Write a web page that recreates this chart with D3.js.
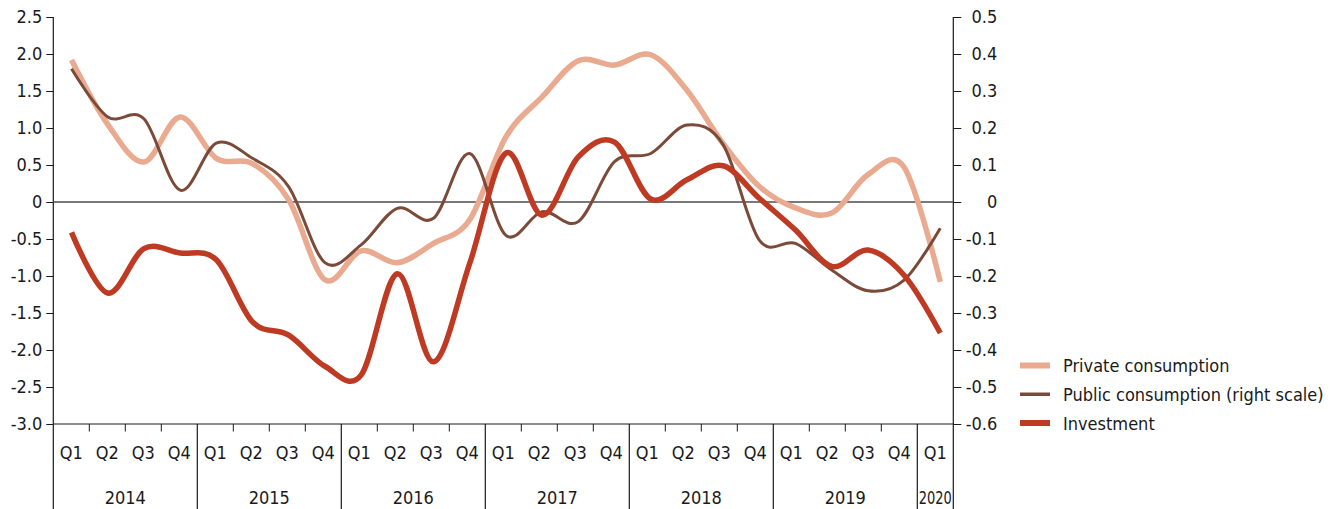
<!DOCTYPE html>
<html>
<head>
<meta charset="utf-8">
<script src="https://cdn.jsdelivr.net/npm/d3@7"></script>
<style>
  html, body { margin: 0; padding: 0; background: #fff; }
  svg text { font-family: "DejaVu Sans Condensed", "Liberation Sans", sans-serif; font-size: 18px; fill: #1a1a1a; }
</style>
</head>
<body>
<svg id="chart" width="1330" height="509"></svg>
<script>
// Quarterly periods, 2014 Q1 to 2020 Q1
const years = ["2014", "2015", "2016", "2017", "2018", "2019", "2020"];
const quarterNames = ["Q1", "Q2", "Q3", "Q4"];
const periods = [];
years.forEach(y => quarterNames.forEach(q => { if (y !== "2020" || q === "Q1") periods.push(y + " " + q); }));

// Contributions, percentage points
const privateConsumption = [1.92, 1.05, 0.54, 1.15, 0.59, 0.52, 0.03, -1.05, -0.66, -0.82, -0.56, -0.24,
  0.88, 1.42, 1.91, 1.85, 1.99, 1.51, 0.79, 0.21, -0.08, -0.15, 0.37, 0.47, -1.08];
const publicConsumption = [0.36, 0.23, 0.225, 0.032, 0.159, 0.118, 0.041, -0.164, -0.116, -0.017, -0.044, 0.131,
  -0.09, -0.026, -0.053, 0.109, 0.131, 0.208, 0.155, -0.103, -0.112, -0.184, -0.24, -0.211, -0.071];
const investment = [-0.41, -1.23, -0.63, -0.69, -0.78, -1.62, -1.80, -2.22, -2.34, -0.97, -2.16, -0.83,
  0.66, -0.18, 0.61, 0.81, 0.04, 0.30, 0.49, 0.05, -0.38, -0.87, -0.65, -0.99, -1.77];

const leftTicks = [2.5, 2.0, 1.5, 1.0, 0.5, 0, -0.5, -1.0, -1.5, -2.0, -2.5, -3.0];
const rightTicks = [0.5, 0.4, 0.3, 0.2, 0.1, 0, -0.1, -0.2, -0.3, -0.4, -0.5, -0.6];

const series = [
  { name: "Private consumption", values: privateConsumption, axis: "left", color: "#e9aa8f", width: 5.5 },
  { name: "Public consumption (right scale)", values: publicConsumption, axis: "right", color: "#7b4b3a", width: 3 },
  { name: "Investment", values: investment, axis: "left", color: "#bf3a22", width: 5.5 }
];

const svg = d3.select("#chart");
const plot = { left: 53.3, right: 953.3, top: 17, bottom: 424 };

const xBand = d3.scaleBand().domain(periods).range([plot.left, plot.right]);
const xLine = d3.scalePoint().domain(periods).range([71.5, 940.3]);
const yLeft = d3.scaleLinear().domain([-3.0, 2.5]).range([plot.bottom, plot.top]);
const yRight = d3.scaleLinear().domain([-0.6, 0.5]).range([plot.bottom, plot.top]);

const fmt = d => d === 0 ? "0" : d.toFixed(1);

// Left axis
const gL = svg.append("g").attr("transform", `translate(${plot.left},0)`)
  .call(d3.axisLeft(yLeft).tickValues(leftTicks).tickFormat(fmt).tickSize(7).tickSizeOuter(0).tickPadding(4));
gL.select(".domain").remove();
gL.selectAll("line").attr("stroke", "#1a1a1a");
gL.selectAll("text").attr("font-size", null).attr("font-family", null);

// Right axis: ticks outward, labels right-aligned
const gR = svg.append("g").attr("transform", `translate(${plot.right},0)`)
  .call(d3.axisRight(yRight).tickValues(rightTicks).tickFormat(fmt).tickSize(8).tickSizeOuter(0).tickPadding(4));
gR.select(".domain").remove();
gR.selectAll("line").attr("stroke", "#1a1a1a");
gR.selectAll("text").attr("font-size", null).attr("font-family", null)
  .attr("text-anchor", "end").attr("x", 44);

// Vertical axis lines reaching down through the category labels
svg.append("line").attr("x1", plot.left).attr("x2", plot.left).attr("y1", plot.top).attr("y2", 509)
  .attr("stroke", "#1a1a1a").attr("stroke-width", 1.2);
svg.append("line").attr("x1", plot.right).attr("x2", plot.right).attr("y1", plot.top).attr("y2", 509)
  .attr("stroke", "#1a1a1a").attr("stroke-width", 1.2);

// Category axis
svg.append("line").attr("x1", plot.left).attr("x2", plot.right).attr("y1", plot.bottom).attr("y2", plot.bottom)
  .attr("stroke", "#1a1a1a").attr("stroke-width", 1.2);

const gX = svg.append("g");
periods.forEach((p, i) => {
  const x0 = xBand(p);
  const q = p.split(" ")[1];
  if (i > 0) {
    const yearStart = q === "Q1";
    gX.append("line").attr("x1", x0).attr("x2", x0).attr("y1", plot.bottom)
      .attr("y2", yearStart ? 509 : plot.bottom + 7.5)
      .attr("stroke", "#1a1a1a").attr("stroke-width", yearStart ? 1.2 : 1);
  }
  gX.append("text").attr("x", x0 + xBand.bandwidth() / 2).attr("y", 452)
    .attr("text-anchor", "middle").attr("dominant-baseline", "central").text(q);
});
years.forEach(y => {
  const ps = periods.filter(p => p.startsWith(y));
  const a = xBand(ps[0]), b = xBand(ps[ps.length - 1]) + xBand.bandwidth();
  const t = gX.append("text").attr("x", (a + b) / 2).attr("y", 497)
    .attr("text-anchor", "middle").attr("dominant-baseline", "central").text(y);
  // squeeze a year label that would not fit inside its single-quarter span
  const room = b - a - 3;
  if (t.node().getComputedTextLength() > room) {
    t.attr("textLength", room).attr("lengthAdjust", "spacingAndGlyphs");
  }
});

// Zero line
svg.append("line").attr("x1", plot.left).attr("x2", plot.right)
  .attr("y1", yLeft(0)).attr("y2", yLeft(0))
  .attr("stroke", "#4d4d4d").attr("stroke-width", 1.6);

// Series lines
series.forEach(s => {
  const y = s.axis === "left" ? yLeft : yRight;
  const line = d3.line()
    .x((d, i) => xLine(periods[i]))
    .y(d => y(d))
    .curve(d3.curveCardinal.tension(0));
  svg.append("path").datum(s.values)
    .attr("d", line)
    .attr("fill", "none")
    .attr("stroke", s.color)
    .attr("stroke-width", s.width)
    .attr("stroke-linejoin", "round");
});

// Legend
const legend = svg.append("g");
const legendY = d3.scalePoint().domain(series.map(s => s.name)).range([365.5, 423]);
series.forEach(s => {
  const ly = legendY(s.name);
  legend.append("line").attr("x1", 1020).attr("x2", 1050).attr("y1", ly).attr("y2", ly)
    .attr("stroke", s.color).attr("stroke-width", s.axis === "right" ? 3.5 : 6);
  legend.append("text").attr("x", 1063).attr("y", ly).attr("dominant-baseline", "central").text(s.name);
});
</script>
</body>
</html>
